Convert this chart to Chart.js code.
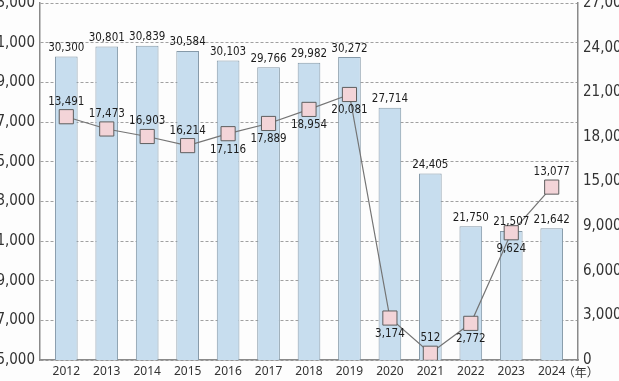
<!DOCTYPE html>
<html><head><meta charset="utf-8">
<script src="https://cdn.jsdelivr.net/npm/chart.js@4.4.1/dist/chart.umd.min.js"></script>
<style>
html,body{margin:0;padding:0;background:#fdfdfd;overflow:hidden;width:619px;height:381px;}
#wrap{position:absolute;left:-30px;top:-20px;width:689px;height:405px;}
</style></head><body>
<div id="wrap"><canvas id="c"></canvas></div>
<script>
// ---- data ----
const years = ['2012','2013','2014','2015','2016','2017','2018','2019','2020','2021','2022','2023','2024'];
const barValues = [30300, 30801, 30839, 30584, 30103, 29766, 29982, 30272, 27714, 24405, 21750, 21507, 21642];
// marker heights as drawn (2012's marker sits near 18,400 although printed "13,491")
const lineValues = [18400, 17473, 16903, 16214, 17116, 17889, 18954, 20081, 3174, 512, 2772, 9624, 13077];
const lineLabels = ['13,491','17,473','16,903','16,214','17,116','17,889','18,954','20,081','3,174','512','2,772','9,624','13,077'];
const leftMin = 15000, leftMax = 33000, leftStep = 2000;
const rightMax = 27000;
const rightTickLabels = ['0','3,000','6,000','9,000','15,000','18,000','21,000','24,000','27,000'];
const yearUnit = '（年）';
// label placement for the line values
const lineLabelSide = ['up','up','up','up','down','down','down','down','down','up','down','down','up'];

const fmt = v => Number(v).toLocaleString('en-US');
const NARROW = "'Liberation Sans Narrow','DejaVu Sans Condensed','Arial Narrow',sans-serif";

const labelPlugin = {
  id: 'valueLabels',
  afterDatasetsDraw(chart) {
    const ctx = chart.ctx;
    ctx.save();
    ctx.font = "11.5px " + NARROW;
    ctx.fillStyle = '#1c1c1c';
    ctx.textAlign = 'center';
    ctx.textBaseline = 'middle';
    chart.getDatasetMeta(1).data.forEach((el, i) => {
      ctx.fillText(fmt(barValues[i]), el.x, el.y - 8.5);
    });
    chart.getDatasetMeta(0).data.forEach((el, i) => {
      const dy = lineLabelSide[i] === 'up' ? -15 : 16;
      ctx.fillText(lineLabels[i], el.x, el.y + dy);
    });
    ctx.restore();
  },
  afterDraw(chart) {
    const ctx = chart.ctx;
    const xs = chart.scales.x;
    ctx.save();
    ctx.font = "12px 'Noto Sans CJK JP',sans-serif";
    ctx.fillStyle = '#333';
    ctx.textAlign = 'center';
    ctx.textBaseline = 'middle';
    ctx.fillText(yearUnit, xs.getPixelForValue(years.length - 1) + 29, xs.top + 12);
    ctx.restore();
  }
};

new Chart(document.getElementById('c'), {
  type: 'bar',
  data: {
    datasets: [
      {
        type: 'line',
        data: years.map((_, i) => ({x: i, y: lineValues[i]})),
        xAxisID: 'x', yAxisID: 'y1',
        borderColor: '#747474', borderWidth: 1.2,
        pointStyle: 'rect', pointRadius: 10,
        pointBackgroundColor: '#f3d4d8', pointBorderColor: '#5e5e5e', pointBorderWidth: 1,
        tension: 0, order: 0
      },
      {
        type: 'bar',
        data: years.map((_, i) => ({x: i, y: barValues[i]})),
        xAxisID: 'x', yAxisID: 'y',
        backgroundColor: '#c7ddee', borderColor: '#8599a8', borderWidth: 1,
        barPercentage: 0.56, categoryPercentage: 1, order: 1
      }
    ]
  },
  options: {
    responsive: true, maintainAspectRatio: false, animation: false,
    layout: {padding: {top: 23, left: 0, right: 0, bottom: 0}},
    plugins: {legend: {display: false}, tooltip: {enabled: false}},
    scales: {
      x: {
        type: 'linear', min: -0.65, max: 12.65, offset: false,
        grid: {display: false, drawTicks: false},
        border: {display: true, color: '#8a8a8a', width: 1.5},
        ticks: {padding: 4, autoSkip: false, maxRotation: 0, color: '#333',
          font: {family: "'Noto Sans',sans-serif", size: 12},
          callback: v => years[v] ?? ''},
        afterBuildTicks: s => { s.ticks = years.map((_, i) => ({value: i})); },
        afterFit: s => { s.height = 25; }
      },
      y: {
        position: 'left', min: leftMin, max: leftMax,
        ticks: {stepSize: leftStep, padding: 5, color: '#333',
          font: {family: NARROW, size: 15}, callback: v => fmt(v)},
        grid: {color: '#a0a0a0', lineWidth: 1, drawTicks: false},
        border: {display: true, color: '#8a8a8a', width: 1.5, dash: [3, 2]},
        afterFit: s => { s.width = 70; }
      },
      yR: {
        position: 'right', min: 0, max: rightTickLabels.length - 1,
        ticks: {stepSize: 1, padding: 5, color: '#333',
          font: {family: NARROW, size: 15}, callback: v => rightTickLabels[v] ?? ''},
        grid: {display: false, drawTicks: false},
        border: {display: true, color: '#8a8a8a', width: 1.5},
        afterFit: s => { s.width = 81; }
      },
      y1: {display: false, min: 0, max: rightMax}
    }
  },
  plugins: [labelPlugin]
});
</script>
</body></html>
